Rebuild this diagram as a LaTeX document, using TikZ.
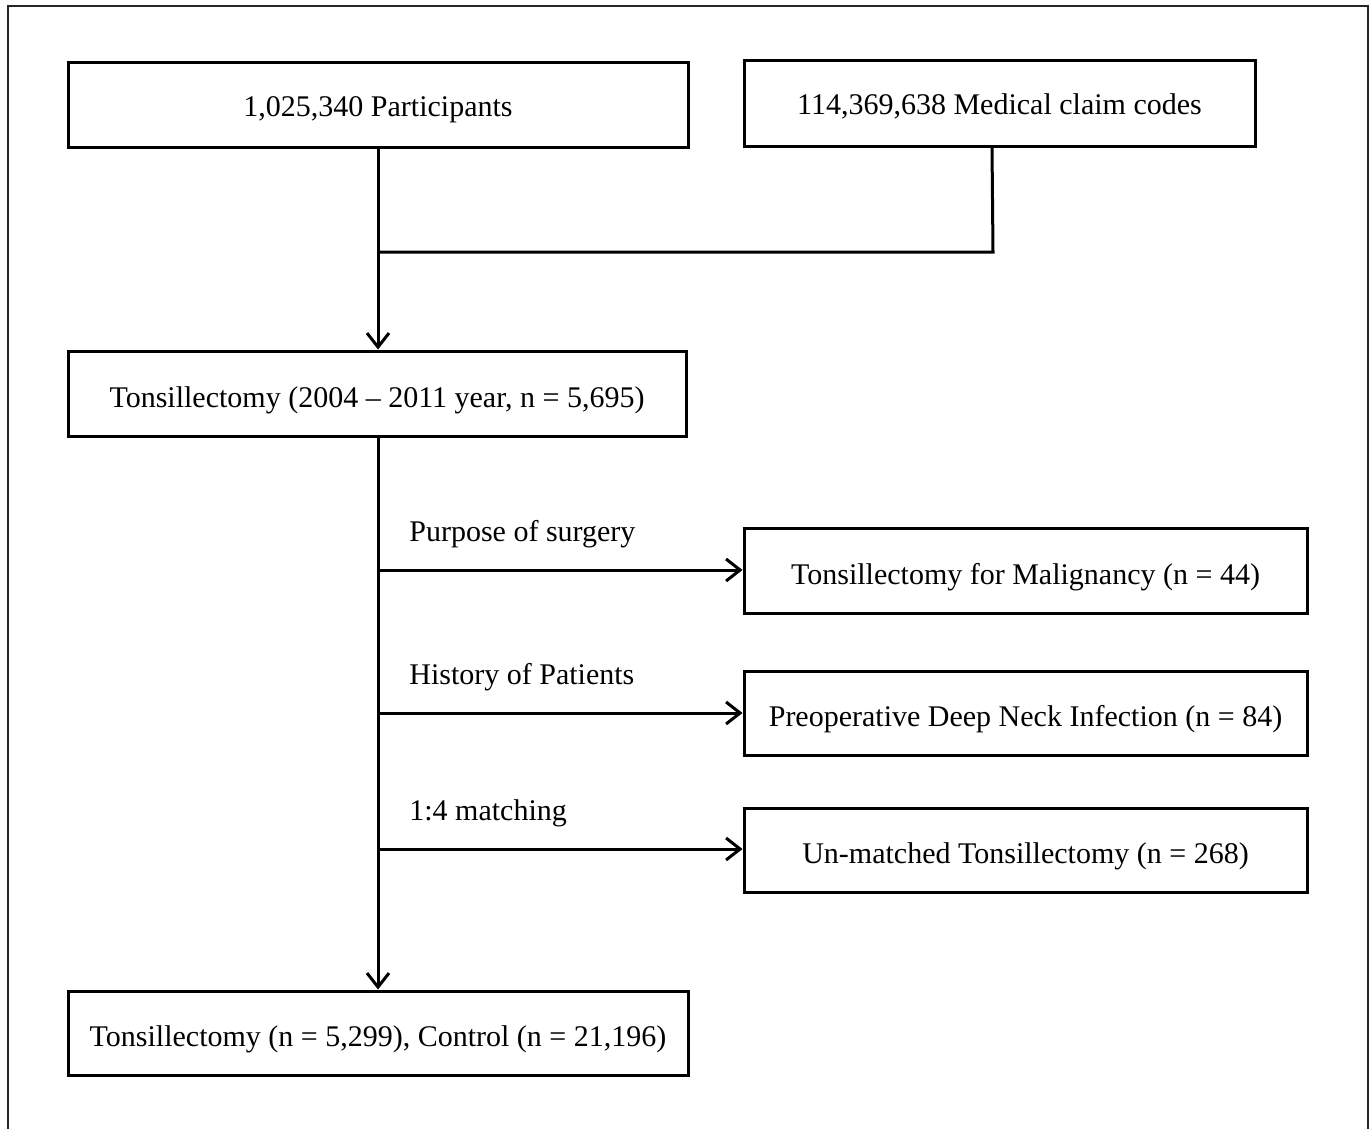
\documentclass[tikz,border=0pt]{standalone}
\usepackage{fontspec}
\setmainfont{Liberation Serif}
\usetikzlibrary{arrows.meta}
\begin{document}
\begin{tikzpicture}[x=0.5pt,y=-0.5pt,
  boxst/.style={draw, line width=1.5pt, inner sep=0pt, text height=16.8pt, text depth=3.3pt, font=\fontsize{15}{18}\selectfont},
  topbox/.style={boxst, text height=14.8pt},
  conn/.style={line width=1.5pt},
  arr/.style={conn, -{Straight Barb[length=7pt,width=11pt,line width=1.5pt]}},
  lbl/.style={anchor=west, inner sep=0pt, font=\fontsize{15}{18}\selectfont}]
\useasboundingbox (0,0) rectangle (1370,1129);
\fill[white] (0,0) rectangle (1370,1129);
\draw[line width=0.75pt, black!85] (8,1129) -- (8,6) -- (1368,6) -- (1368,1129);
% boxes
\node[topbox, minimum width=310pt, minimum height=42pt] (part) at (378,105) {1,025,340 Participants};
\node[topbox, minimum width=255.5pt, minimum height=42.5pt] (claim) at (999.5,103.5) {114,369,638 Medical claim codes};
\node[boxst, minimum width=309pt, minimum height=42.5pt] (tons) at (377,393.5) {Tonsillectomy (2004 -- 2011 year, n = 5,695)};
\node[boxst, minimum width=281.5pt, minimum height=42.5pt] (malig) at (1025.5,570.5) {Tonsillectomy for Malignancy (n = 44)};
\node[boxst, minimum width=281.5pt, minimum height=42pt] (preop) at (1025.5,713) {Preoperative Deep Neck Infection (n = 84)};
\node[boxst, minimum width=281.5pt, minimum height=42pt] (unm) at (1025.5,850) {Un-matched Tonsillectomy (n = 268)};
\node[boxst, minimum width=310pt, minimum height=42pt] (final) at (378,1033) {Tonsillectomy (n = 5,299), Control (n = 21,196)};
% junction coordinates
\coordinate (j0) at (378,252);
\coordinate (j1) at (993,252);
\coordinate (b1) at (378,570);
\coordinate (b2) at (378,713);
\coordinate (b3) at (378,849);
% connectors
\draw[arr] (part.south) -- (tons.north -| part.south);
\draw[conn] (claim.south -| 992,0) -- (j1) -- (j0);
\draw[arr] (tons.south -| part.south) -- (final.north -| part.south);
\draw[arr] (b1) -- (malig.west |- b1);
\draw[arr] (b2) -- (preop.west |- b2);
\draw[arr] (b3) -- (unm.west |- b3);
% labels
\node[lbl] (l1) at (409,534) {Purpose of surgery};
\node[lbl] (l2) at (409,677) {History of Patients};
\node[lbl] (l3) at (409,813) {1:4 matching};
\end{tikzpicture}
\end{document}
